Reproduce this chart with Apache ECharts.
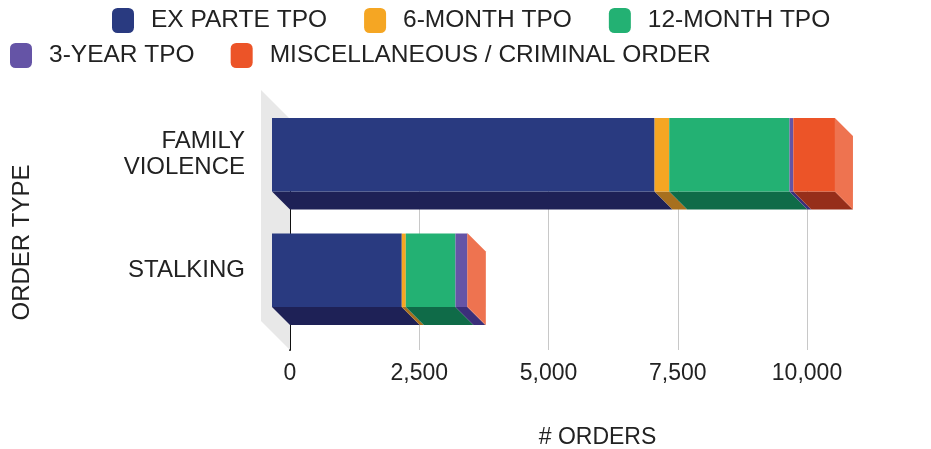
<!DOCTYPE html>
<html>
<head>
<meta charset="utf-8">
<script src="https://cdn.jsdelivr.net/npm/echarts@6/dist/echarts.min.js"></script>
<style>
	html, body { margin: 0; padding: 0; background: #fff; }
	#chart { width: 931px; height: 449px; }
</style>
</head>
<body>
<div id="chart"></div>
<script>
// 数据
var categories = ['FAMILY VIOLENCE', 'STALKING'];
var seriesNames = ['EX PARTE TPO', '6-MONTH TPO', '12-MONTH TPO', '3-YEAR TPO', 'MISCELLANEOUS / CRIMINAL ORDER'];
var exParte = [7400, 2510];
var sixMonth = [283, 78];
var twelveMonth = [2326, 960];
var threeYear = [75, 230];
var misc = [805, 10];
var xTicks = [0, 2500, 5000, 7500, 10000];

// 样式
var frontColors = ['#293a80', '#f5a623', '#23b173', '#6554a6', '#ec5428'];
var bottomColors = ['#1e2156', '#a7701f', '#0f6b48', '#3b2f7a', '#962e1a'];
var sideColor = '#ee7350';
var DEPTH = 18;      // 柱子厚度
var WALL = 29;       // 左侧墙厚度
var FONT = 'Liberation Sans, Arial, sans-serif';

var values = [exParte, sixMonth, twelveMonth, threeYear, misc];

function buildData(idx) {
	var list = [];
	for (var c = 0; c < categories.length; c++) {
		var start = 0;
		for (var k = 0; k < idx; k++) {
			start += values[k][c];
		}
		list.push([start, start + values[idx][c], c]);
	}
	return list;
}

function renderSeg(params, api) {
	var cat = api.value(2);
	var p0 = api.coord([api.value(0), cat]);
	var p1 = api.coord([api.value(1), cat]);
	var band = api.size([0, 1])[1];
	var h = band * 0.635;
	var backTop = p0[1] - 4 - h / 2;
	var top = backTop - DEPTH;
	var bottom = top + h;
	var x0 = p0[0] - DEPTH;
	var x1 = p1[0] - DEPTH;
	var idx = params.seriesIndex - 1;
	var children = [{
		type: 'polygon',
		shape: { points: [[x0, bottom], [x1, bottom], [x1 + DEPTH, bottom + DEPTH], [x0 + DEPTH, bottom + DEPTH]] },
		style: { fill: bottomColors[idx] }
	}, {
		type: 'rect',
		shape: { x: x0, y: top, width: x1 - x0, height: h },
		style: { fill: frontColors[idx] }
	}];
	if (idx === seriesNames.length - 1) {
		children.push({
			type: 'polygon',
			shape: { points: [[x1, top], [x1 + DEPTH, top + DEPTH], [x1 + DEPTH, bottom + DEPTH], [x1, bottom]] },
			style: { fill: sideColor }
		});
	}
	return { type: 'group', children: children };
}

function renderWall(params, api) {
	var cs = params.coordSys;
	return {
		type: 'polygon',
		shape: { points: [[cs.x - WALL, cs.y - WALL], [cs.x, cs.y], [cs.x, cs.y + cs.height], [cs.x - WALL, cs.y + cs.height - WALL]] },
		style: { fill: '#e8e8e8' }
	};
}

var series = [{
	type: 'custom',
	name: 'wall',
	silent: true,
	z: 1,
	renderItem: renderWall,
	encode: { x: 0, y: 1 },
	data: [[0, 0]]
}];
for (var i = 0; i < seriesNames.length; i++) {
	series.push({
		type: 'custom',
		name: seriesNames[i],
		renderItem: renderSeg,
		clip: false,
		z: 3,
		itemStyle: { color: frontColors[i] },
		encode: { x: [0, 1], y: 2 },
		data: buildData(i)
	});
}

var legendText = { color: '#222', fontSize: 24.5, fontFamily: FONT, padding: [0, 0, 0, 12] };

var myChart = echarts.init(document.getElementById('chart'));
var option = {
	animation: false,
	legend: [{
		left: 112, top: 8, padding: 0,
		icon: 'roundRect',
		itemWidth: 22, itemHeight: 25, itemGap: 37,
		textStyle: legendText,
		data: seriesNames.slice(0, 3)
	}, {
		left: 10, top: 43, padding: 0,
		icon: 'roundRect',
		itemWidth: 22, itemHeight: 25, itemGap: 36,
		textStyle: legendText,
		data: seriesNames.slice(3)
	}],
	grid: { left: 290, right: 124, top: 119, bottom: 99, containLabel: false, outerBoundsMode: 'none' },
	xAxis: {
		type: 'value',
		min: xTicks[0],
		max: xTicks[xTicks.length - 1],
		interval: xTicks[1] - xTicks[0],
		axisLine: { show: false },
		axisTick: { show: false },
		splitLine: { lineStyle: { color: '#c8c8c8', width: 1 } },
		axisLabel: { color: '#222', fontSize: 23, fontFamily: FONT, margin: 12 },
		name: '# ORDERS',
		nameLocation: 'middle',
		nameGap: 76,
		nameTextStyle: { color: '#222', fontSize: 23, fontFamily: FONT, padding: [0, 0, 0, 98] }
	},
	yAxis: {
		type: 'category',
		inverse: true,
		data: categories,
		axisLine: { show: true, lineStyle: { color: '#111', width: 2 } },
		axisTick: { show: false },
		splitLine: { show: false },
		axisLabel: {
			color: '#222', fontSize: 24, fontFamily: FONT, margin: 45,
			lineHeight: 26, align: 'right',
			formatter: function(value) {
				var text = value.indexOf('FAMILY') === 0 ? value.replace(' ', '\n') : value;
				// 下方留空，使文字对齐柱子正面
				return text + '\n{gap| }';
			},
			rich: {
				gap: { lineHeight: 44, fontSize: 10 }
			}
		},
		name: 'ORDER TYPE',
		nameLocation: 'middle',
		nameRotate: 90,
		nameGap: 256,
		nameTextStyle: { color: '#222', fontSize: 24, fontFamily: FONT, padding: [0, 16, 0, 0] }
	},
	series: series
};
myChart.setOption(option);
</script>
</body>
</html>
